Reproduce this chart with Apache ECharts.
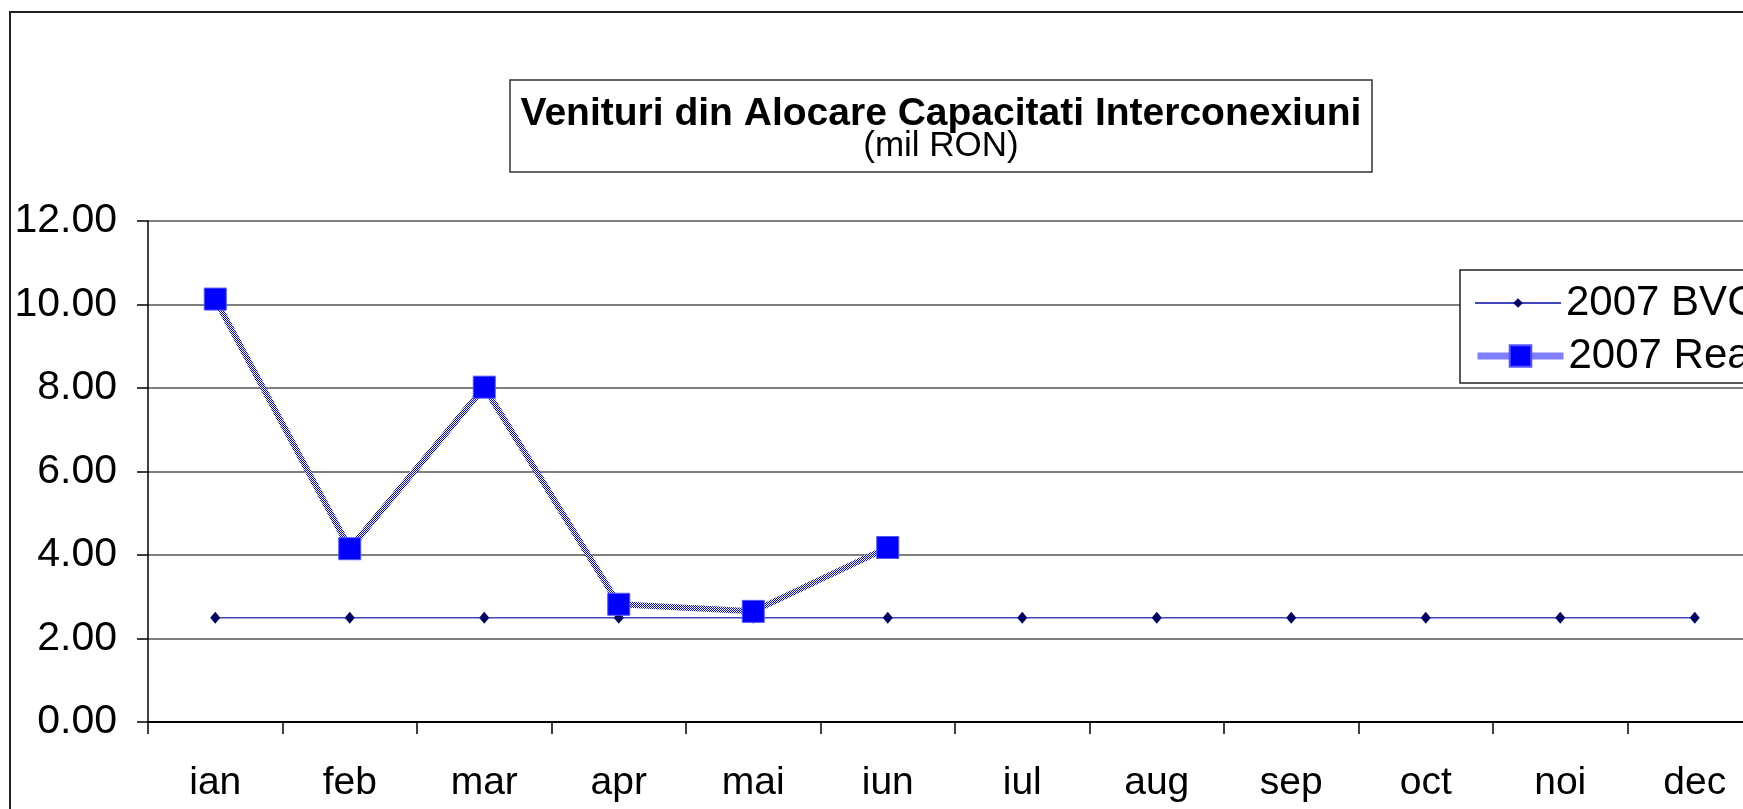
<!DOCTYPE html>
<html>
<head>
<meta charset="utf-8">
<title>Venituri din Alocare Capacitati Interconexiuni</title>
<script src="https://cdn.jsdelivr.net/npm/echarts@6/dist/echarts.min.js"></script>
<style>
    html, body { margin: 0; padding: 0; background: #fff; }
    #chart { width: 1743px; height: 809px; }
</style>
</head>
<body>
<div id="chart"></div>
<script>
// data
const months = ['ian', 'feb', 'mar', 'apr', 'mai', 'iun', 'iul', 'aug', 'sep', 'oct', 'noi', 'dec'];
const bvc2007 = [2.5, 2.5, 2.5, 2.5, 2.5, 2.5, 2.5, 2.5, 2.5, 2.5, 2.5, 2.5];
const real2007 = [10.13, 4.15, 8.02, 2.82, 2.65, 4.18];
const seriesNames = ['2007 BVC', '2007 Realizat'];
const yMin = 0;
const yMax = 12;
const yStep = 2;

const FONT = '"Liberation Sans", Arial, sans-serif';

// small blue/white checker used for the "Realizat" line
const checker = document.createElement('canvas');
checker.width = 2;
checker.height = 2;
const cctx = checker.getContext('2d');
cctx.fillStyle = '#ffffff';
cctx.fillRect(0, 0, 2, 2);
cctx.fillStyle = '#0000ff';
cctx.fillRect(0, 0, 1, 1);
cctx.fillRect(1, 1, 1, 1);
const checkerPattern = { image: checker, repeat: 'repeat' };

const myChart = echarts.init(document.getElementById('chart'));

myChart.setOption({
    animation: false,
    backgroundColor: '#fff',
    textStyle: { fontFamily: FONT },
    title: {
        text: 'Venituri din Alocare Capacitati Interconexiuni',
        subtext: '(mil RON)',
        left: 941,
        top: 95,
        textAlign: 'center',
        padding: 0,
        itemGap: -5,
        textStyle: {
            fontFamily: FONT,
            fontSize: 39,
            lineHeight: 39,
            fontWeight: 'bold',
            color: '#000',
        },
        subtextStyle: {
            fontFamily: FONT,
            fontSize: 35,
            lineHeight: 35,
            color: '#000',
        },
    },
    graphic: [
        {
            type: 'rect',
            z: 0,
            shape: { x: 10, y: 12, width: 2000, height: 1000 },
            style: { fill: 'none', stroke: '#222', lineWidth: 2 },
        },
        {
            type: 'rect',
            z: 1,
            shape: { x: 510, y: 80, width: 862, height: 92 },
            style: { fill: '#fff', stroke: '#333', lineWidth: 1.5 },
        },
        {
            type: 'rect',
            z: 3,
            shape: { x: 1460, y: 270, width: 400, height: 113 },
            style: { fill: '#fff', stroke: '#222', lineWidth: 1.5 },
        },
    ],
    legend: [
        {
            data: [seriesNames[0]],
            left: 1474,
            top: 282,
            padding: 0,
            itemWidth: 86,
            itemHeight: 12,
            z: 5,
            textStyle: { fontFamily: FONT, fontSize: 42, lineHeight: 42, color: '#000' },
        },
        {
            data: [seriesNames[1]],
            left: 1474,
            top: 335,
            padding: 0,
            itemWidth: 86,
            itemHeight: 27,
            z: 5,
            lineStyle: { width: 7 },
            textStyle: { fontFamily: FONT, fontSize: 42, lineHeight: 42, color: '#000' },
        },
    ],
    grid: {
        left: 148,
        width: 1614,
        top: 221,
        bottom: 87,
        containLabel: false,
        outerBoundsMode: 'none',
    },
    xAxis: {
        type: 'category',
        data: months,
        boundaryGap: true,
        axisLine: { lineStyle: { color: '#000', width: 2 } },
        axisTick: { show: true, interval: 0, length: 12, lineStyle: { color: '#000', width: 1.5 } },
        axisLabel: {
            interval: 0,
            margin: 42,
            fontSize: 39,
            lineHeight: 39,
            color: '#000',
            fontFamily: FONT,
        },
        splitLine: { show: false },
    },
    yAxis: {
        type: 'value',
        min: yMin,
        max: yMax,
        interval: yStep,
        axisLine: { show: true, lineStyle: { color: '#000', width: 1.5 } },
        axisTick: { show: true, length: 11, lineStyle: { color: '#000', width: 1.5 } },
        axisLabel: {
            margin: 31,
            fontSize: 41,
            color: '#000',
            fontFamily: FONT,
            formatter: (v) => v.toFixed(2),
        },
        splitLine: { show: true, lineStyle: { color: '#555', width: 1.5 } },
    },
    series: [
        {
            name: seriesNames[0],
            type: 'line',
            data: bvc2007,
            symbol: 'diamond',
            symbolSize: [10, 12],
            color: '#000066',
            itemStyle: { color: '#000066' },
            lineStyle: { color: '#4444bb', width: 1.5 },
            z: 2,
        },
        {
            name: seriesNames[1],
            type: 'line',
            data: real2007,
            symbol: 'rect',
            symbolSize: 22,
            color: '#0000ff',
            itemStyle: { color: '#0000ff', borderColor: '#5555ff', borderWidth: 1 },
            lineStyle: { color: checkerPattern, width: 6 },
            z: 3,
        },
    ],
});

window.addEventListener('resize', () => myChart.resize());
</script>
</body>
</html>
